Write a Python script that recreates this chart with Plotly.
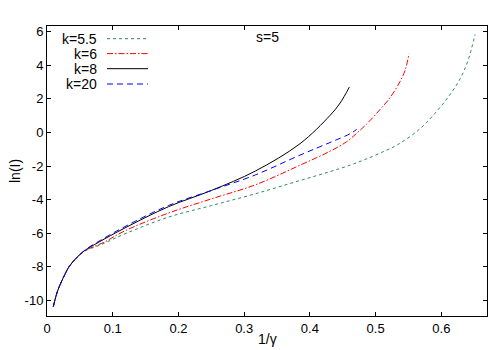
import plotly.graph_objects as go

# ---- data ----
names = ["k=5.5", "k=6", "k=8", "k=20"]

k55_x = [0.0096, 0.0162, 0.0273, 0.0334, 0.0425, 0.0576, 0.0808, 0.1187, 0.1847, 0.2503,
         0.3169, 0.3850, 0.4306, 0.4611, 0.4813, 0.5086, 0.5338, 0.5676, 0.5929, 0.6132,
         0.6286, 0.6407, 0.6513]
k55_y = [-10.36, -9.42, -8.44, -8.0, -7.56, -7.06, -6.70, -6.03, -5.04, -4.35,
         -3.65, -2.86, -2.33, -1.95, -1.65, -1.20, -0.72, 0.22, 1.25, 2.25,
         3.19, 4.29, 5.83]

k6_x = [0.0096, 0.0162, 0.0273, 0.0334, 0.0425, 0.0576, 0.0859, 0.1187, 0.1847, 0.2503,
        0.3169, 0.3850, 0.4306, 0.4561, 0.4712, 0.4864, 0.5065, 0.5217, 0.5368, 0.5449,
        0.5509]
k6_y = [-10.36, -9.42, -8.44, -8.0, -7.56, -7.04, -6.55, -5.85, -4.80, -3.95,
        -3.12, -1.95, -1.12, -0.55, -0.05, 0.5, 1.35, 2.05, 3.0, 3.7,
        4.68]

k8_x = [0.0096, 0.0162, 0.0273, 0.0334, 0.0425, 0.0576, 0.0778, 0.1187, 0.1847, 0.2503,
        0.3169, 0.3850, 0.4306, 0.4460, 0.4601]
k8_y = [-10.36, -9.42, -8.44, -8.0, -7.56, -7.02, -6.55, -5.68, -4.42, -3.45,
        -2.30, -0.67, 1.01, 1.75, 2.70]

k20_x = [0.0096, 0.0162, 0.0273, 0.0334, 0.0425, 0.0576, 0.0778, 0.1187, 0.1847, 0.2503,
         0.3169, 0.3850, 0.4306, 0.4611, 0.4712]
k20_y = [-10.36, -9.42, -8.44, -8.0, -7.56, -7.0, -6.50, -5.60, -4.35, -3.45,
         -2.53, -1.35, -0.60, -0.08, 0.18]

x_ticks = [0, 0.1, 0.2, 0.3, 0.4, 0.5, 0.6]
x_tick_labels = ["0", "0.1", "0.2", "0.3", "0.4", "0.5", "0.6"]
y_ticks = [-10, -8, -6, -4, -2, 0, 2, 4, 6]
y_tick_labels = ["-10", "-8", "-6", "-4", "-2", "0", "2", "4", "6"]

# ---- styles ----
colors = ["#2e8b57", "#ff0000", "#000000", "#0000ff"]
dashes = ["3px,3px", "6px,2px,1.5px,2px", "solid", "6px,4px"]
series = [(k55_x, k55_y), (k6_x, k6_y), (k8_x, k8_y), (k20_x, k20_y)]

FONT = "Liberation Sans, Arial, sans-serif"
FS = 13

fig = go.Figure()
for (xs, ys), name, c, d in zip(series, names, colors, dashes):
    fig.add_trace(go.Scatter(x=xs, y=ys, mode="lines", name=name, showlegend=False,
                             line=dict(color=c, width=1, dash=d, shape="spline", smoothing=1.0)))

# page body has an 8px margin; lay out in window pixels and subtract it
OFF = 8
W, H = 484, 342
L, T = 47 - OFF, 26 - OFF
pw, ph = 440, 290
R, B = W - L - pw, H - T - ph

def px2paper_x(px):
    return (px - OFF - L) / pw

def px2paper_y(py):
    return (T + ph - (py - OFF)) / ph

shapes = []
annotations = []
row_y = [38.7, 53.6, 68.7, 84.0]
for name, c, d, py in zip(names, colors, dashes, row_y):
    yp = px2paper_y(py)
    annotations.append(dict(x=px2paper_x(99), y=yp, xref="paper", yref="paper", text=name,
                            showarrow=False, xanchor="right", yanchor="middle",
                            font=dict(family=FONT, size=FS + 1, color="black")))
    shapes.append(dict(type="line", xref="paper", yref="paper",
                       x0=px2paper_x(107), x1=px2paper_x(148), y0=yp, y1=yp,
                       line=dict(color=c, width=1, dash=d)))

annotations.append(dict(x=px2paper_x(267), y=px2paper_y(37), xref="paper", yref="paper",
                        text="s=5", showarrow=False, xanchor="center", yanchor="middle",
                        font=dict(family=FONT, size=FS + 1, color="black")))
annotations.append(dict(x=px2paper_x(15), y=0.5, xref="paper", yref="paper", text="ln(I)",
                        showarrow=False, textangle=-90, xanchor="center", yanchor="middle",
                        font=dict(family=FONT, size=FS + 1, color="black")))
annotations.append(dict(x=0.5, y=px2paper_y(339), xref="paper", yref="paper", text="1/γ",
                        showarrow=False, xanchor="center", yanchor="middle",
                        font=dict(family=FONT, size=FS + 1, color="black")))

axis_common = dict(showgrid=False, zeroline=False, showline=True, linecolor="black",
                   linewidth=1, mirror="ticks", ticks="inside", ticklen=4, tickcolor="black",
                   tickwidth=1, automargin=False,
                   tickfont=dict(family=FONT, size=FS, color="black"))

fig.update_layout(
    width=W, height=H,
    margin=dict(l=L, r=R, t=T, b=B, pad=0),
    paper_bgcolor="white", plot_bgcolor="white",
    xaxis=dict(range=[0, 0.6695], tickvals=x_ticks, ticktext=x_tick_labels, **axis_common),
    yaxis=dict(range=[-10.92, 6.33], tickvals=y_ticks, ticktext=y_tick_labels, **axis_common),
    shapes=shapes, annotations=annotations,
)

fig.write_html("out.html")
